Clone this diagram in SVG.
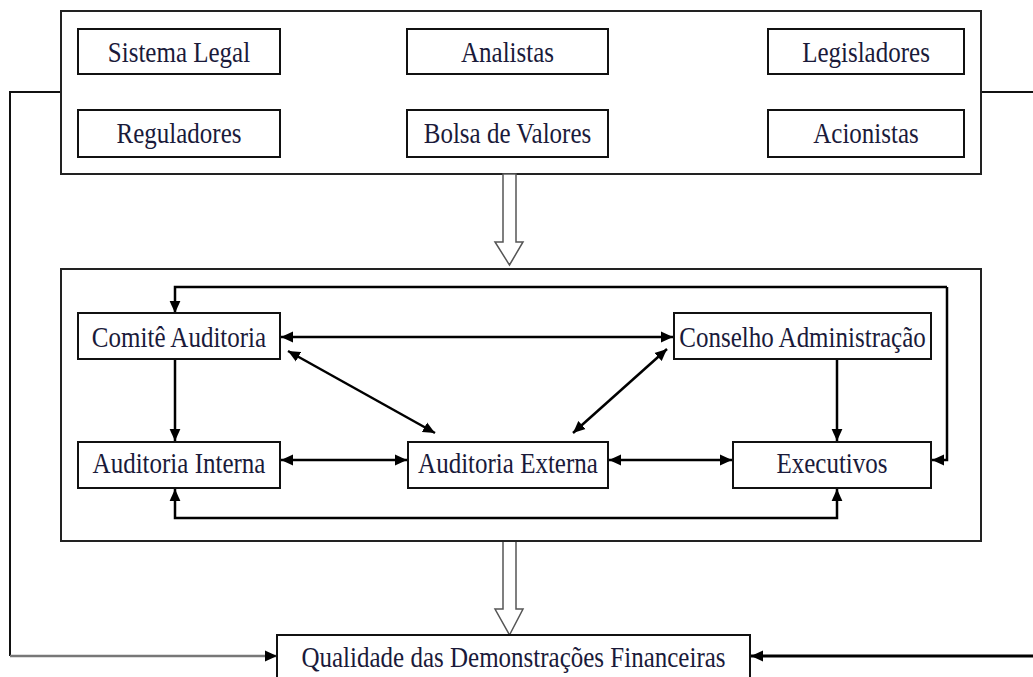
<svg xmlns="http://www.w3.org/2000/svg" width="1033" height="677" viewBox="0 0 1033 677">
<defs>
<marker id="ah" markerUnits="userSpaceOnUse" markerWidth="12" markerHeight="12" viewBox="0 0 10 10" refX="10" refY="5" orient="auto-start-reverse">
<path d="M0,0.5 L10,5 L0,9.5 Z" fill="#000"/>
</marker>
</defs>
<style>
.frame{fill:#fff;stroke:#222;stroke-width:2}
.box{fill:#fff;stroke:#111;stroke-width:2}
.lbl{font-family:"Liberation Serif","Times New Roman",serif;font-size:25px;fill:#1a1a3a;text-anchor:middle}
.c{fill:none;stroke:#000;stroke-width:2.5}
.hollow{fill:#fff;stroke:#555;stroke-width:1.5}
</style>
<rect width="1033" height="677" fill="#fff"/>

<g id="outer-links">
<path d="M61,92 H10 V656" fill="none" stroke="#111" stroke-width="2"/>
<path d="M10,656 H277" fill="none" stroke="#777" stroke-width="2.5" marker-end="url(#ah)"/>
<path d="M981,92 H1033" fill="none" stroke="#111" stroke-width="2"/>
<path d="M1033,656 H751" fill="none" stroke="#000" stroke-width="3" marker-end="url(#ah)"/>
</g>

<g id="external-group">
<rect class="frame" x="61" y="11" width="920" height="163"/>
<g id="sistema-legal"><rect class="box" x="78" y="29" width="202" height="45"/><text class="lbl" transform="translate(179,62) scale(1,1.2)">Sistema Legal</text></g>
<g id="analistas"><rect class="box" x="407" y="29" width="201" height="45"/><text class="lbl" transform="translate(507.5,62) scale(1,1.2)">Analistas</text></g>
<g id="legisladores"><rect class="box" x="768" y="29" width="196" height="45"/><text class="lbl" transform="translate(866,62) scale(1,1.2)">Legisladores</text></g>
<g id="reguladores"><rect class="box" x="78" y="110" width="202" height="47"/><text class="lbl" transform="translate(179,143) scale(1,1.2)">Reguladores</text></g>
<g id="bolsa"><rect class="box" x="407" y="110" width="201" height="47"/><text class="lbl" transform="translate(507.5,143) scale(1,1.2)">Bolsa de Valores</text></g>
<g id="acionistas"><rect class="box" x="768" y="110" width="196" height="47"/><text class="lbl" transform="translate(866,143) scale(1,1.2)">Acionistas</text></g>
</g>

<g id="hollow-arrows">
<polygon class="hollow" points="503,174 516,174 516,242 523,242 509.5,265 495,242 503,242"/>
<polygon class="hollow" points="503,541 516,541 516,609 523,609 509.5,635 495,609 503,609"/>
</g>

<g id="internal-group">
<rect class="frame" x="61" y="269" width="920" height="272"/>
</g>

<g id="connectors">
<path class="c" d="M947,287 V460 H932" marker-end="url(#ah)"/>
<path class="c" d="M947,287 H175 V313" marker-end="url(#ah)"/>
<path class="c" d="M281,337 H673" marker-start="url(#ah)" marker-end="url(#ah)"/>
<path class="c" d="M175,359 V441" marker-end="url(#ah)"/>
<path class="c" d="M288,351 L435,433" marker-start="url(#ah)" marker-end="url(#ah)"/>
<path class="c" d="M667,349 L573,433" marker-start="url(#ah)" marker-end="url(#ah)"/>
<path class="c" d="M837,359 V441" marker-end="url(#ah)"/>
<path class="c" d="M281,460 H407" marker-start="url(#ah)" marker-end="url(#ah)"/>
<path class="c" d="M609,460 H732" marker-start="url(#ah)" marker-end="url(#ah)"/>
<path class="c" d="M175,489 V518 H837 V489" marker-start="url(#ah)" marker-end="url(#ah)"/>
</g>

<g id="comite"><rect class="box" x="78" y="313" width="202" height="46"/><text class="lbl" transform="translate(179,347) scale(1,1.2)">Comitê Auditoria</text></g>
<g id="conselho"><rect class="box" x="674" y="313" width="257" height="46"/><text class="lbl" transform="translate(802.5,347) scale(1,1.2)">Conselho Administração</text></g>
<g id="aud-interna"><rect class="box" x="78" y="442" width="202" height="46"/><text class="lbl" transform="translate(179,473) scale(1,1.2)">Auditoria Interna</text></g>
<g id="aud-externa"><rect class="box" x="408" y="442" width="200" height="46"/><text class="lbl" transform="translate(508,473) scale(1,1.2)">Auditoria Externa</text></g>
<g id="executivos"><rect class="box" x="733" y="442" width="198" height="46"/><text class="lbl" transform="translate(832,473) scale(1,1.2)">Executivos</text></g>

<g id="qualidade"><rect class="box" x="277" y="635" width="473" height="50"/><text class="lbl" transform="translate(513.5,667) scale(1,1.2)">Qualidade das Demonstrações Financeiras</text></g>
</svg>
